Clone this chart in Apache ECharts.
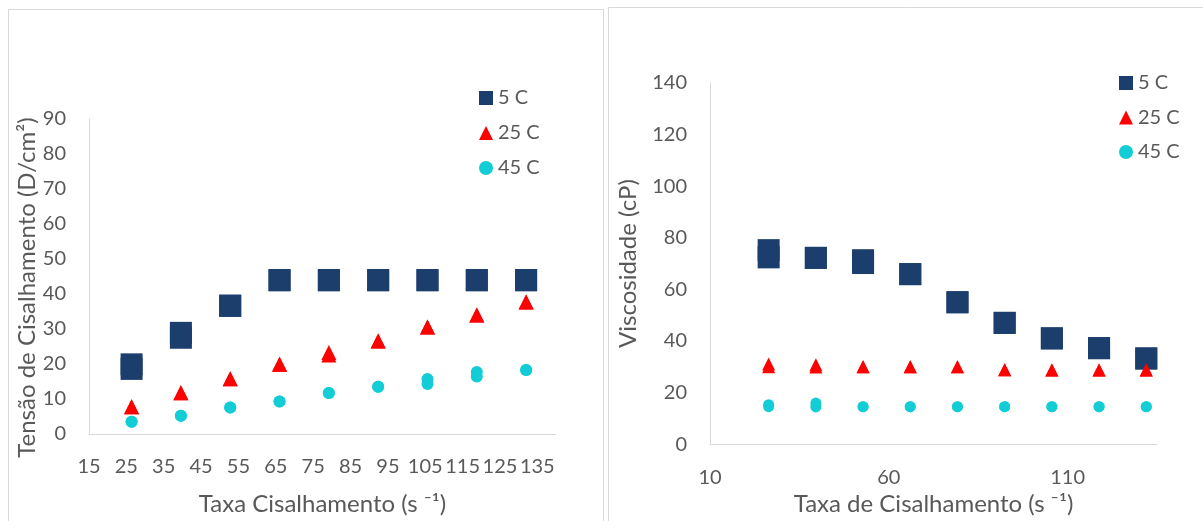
<!DOCTYPE html>
<html>
<head>
<meta charset="utf-8">
<title>Tensão e viscosidade</title>
<script src="https://cdn.jsdelivr.net/npm/echarts@6/dist/echarts.min.js"></script>
<style>
  html, body { margin: 0; padding: 0; background: #fff; }
  #chart { width: 1203px; height: 521px; }
</style>
</head>
<body>
<div id="chart"></div>
<script>
// taxa de cisalhamento (s-1), mesma para todas as leituras
const shearRate = [26.4, 39.6, 52.8, 66, 79.2, 92.4, 105.6, 118.8, 132]

// tensão de cisalhamento (D/cm2) - duas leituras por ponto
const tension5C = [19.9, 28.9, 36.7, 44, 44, 44, 44, 44, 44]
const tension5Cb = [18.6, 27.5, 36.6, 43.9, 43.9, 43.9, 43.9, 43.9, 43.9]
const tension25C = [7.8, 11.8, 15.8, 19.9, 23.3, 26.6, 30.6, 34.0, 37.7]
const tension25Cb = [7.8, 11.8, 15.8, 19.9, 22.6, 26.6, 30.6, 34.0, 37.7]
const tension45C = [3.5, 5.2, 7.6, 9.3, 11.7, 13.5, 15.7, 17.7, 18.3]
const tension45Cb = [3.5, 5.2, 7.6, 9.3, 11.7, 13.5, 14.3, 16.4, 18.3]

// viscosidade (cP) - duas leituras por ponto
const visc5C = [75.2, 72.2, 71.3, 65.9, 55.0, 47.0, 41.0, 37.2, 33.2]
const visc5Cb = [72.4, 72.2, 70.2, 65.9, 55.0, 47.0, 41.0, 37.2, 33.2]
const visc25C = [31.1, 30.8, 30.0, 30.0, 30.0, 28.8, 28.7, 28.7, 28.7]
const visc25Cb = [30.0, 29.9, 30.0, 30.0, 30.0, 28.8, 28.7, 28.7, 28.7]
const visc45C = [15.3, 15.9, 14.5, 14.5, 14.5, 14.5, 14.5, 14.5, 14.5]
const visc45Cb = [14.5, 14.4, 14.5, 14.5, 14.5, 14.5, 14.5, 14.5, 14.5]

const seriesNames = ['5 C', '25 C', '45 C']

const FONT = 'Lato'
const TEXT = '#595959'
const LINE = '#d9d9d9'
const COLORS = ['#1c3e6c', '#ff0000', '#12cdd6']

function pairs(xs, a, b) {
  const out = []
  xs.forEach((x, i) => {
    out.push([x, a[i]])
    out.push([x, b[i]])
  })
  return out
}

function valueAxis(idx, min, max, interval, name, nameGap, extra) {
  return Object.assign({
    type: 'value',
    gridIndex: idx,
    min: min,
    max: max,
    interval: interval,
    name: name,
    nameLocation: 'middle',
    nameGap: nameGap,
    nameTextStyle: { color: TEXT, fontSize: 24, fontFamily: FONT },
    axisLine: { show: true, lineStyle: { color: LINE, width: 1 } },
    axisTick: { show: false },
    splitLine: { show: false },
    axisLabel: { color: TEXT, fontSize: 20, fontFamily: FONT, margin: 23 }
  }, extra || {})
}

function scatter(name, xIdx, data, symbol, size, color) {
  return {
    name: name,
    type: 'scatter',
    xAxisIndex: xIdx,
    yAxisIndex: xIdx,
    symbol: symbol,
    symbolSize: size,
    itemStyle: { color: color, opacity: 1 },
    data: data,
    animation: false
  }
}

function legend(left, top, gap) {
  return {
    orient: 'vertical',
    left: left,
    top: top,
    padding: 0,
    itemWidth: 14,
    itemHeight: 14,
    itemGap: gap,
    textStyle: { color: TEXT, fontSize: 20, fontFamily: FONT },
    data: seriesNames
  }
}

const chart = echarts.init(document.getElementById('chart'))

chart.setOption({
  backgroundColor: '#fff',
  animation: false,
  graphic: [
    { type: 'rect', shape: { x: 8.5, y: 9.5, width: 595, height: 530 },
      style: { fill: 'none', stroke: LINE, lineWidth: 1 }, silent: true },
    { type: 'rect', shape: { x: 608.5, y: 7.5, width: 610, height: 530 },
      style: { fill: 'none', stroke: LINE, lineWidth: 1 }, silent: true }
  ],
  legend: [legend(479, 88, 15), legend(1119, 73, 14.5)],
  grid: [
    { left: 89, top: 119, width: 467, height: 316 },
    { left: 710, top: 83, width: 447, height: 363 }
  ],
  xAxis: [
    valueAxis(0, 15, 140, 10, 'Taxa Cisalhamento (s \u207B\u00B9)', 58,
      { axisLabel: { color: TEXT, fontSize: 20, fontFamily: FONT, margin: 23, showMaxLabel: false } }),
    valueAxis(1, 10, 135, 50, 'Taxa de Cisalhamento (s \u207B\u00B9)', 45,
      { axisLabel: { color: TEXT, fontSize: 20, fontFamily: FONT, margin: 23, showMaxLabel: false } })
  ],
  yAxis: [
    valueAxis(0, 0, 90, 10, '{t|Tensão de Cisalhamento (D/cm²)}', 50, {
      nameTextStyle: {
        color: TEXT, fontSize: 24, fontFamily: FONT,
        rich: { t: { color: TEXT, fontSize: 24, fontFamily: FONT, padding: [0, 22, 0, 0] } }
      }
    }),
    valueAxis(1, 0, 140, 20, 'Viscosidade (cP)', 70)
  ],
  series: [
    scatter(seriesNames[0], 0, pairs(shearRate, tension5C, tension5Cb), 'rect', 22, COLORS[0]),
    scatter(seriesNames[1], 0, pairs(shearRate, tension25C, tension25Cb), 'triangle', 15, COLORS[1]),
    scatter(seriesNames[2], 0, pairs(shearRate, tension45C, tension45Cb), 'circle', 12, COLORS[2]),
    scatter(seriesNames[0], 1, pairs(shearRate, visc5C, visc5Cb), 'rect', 22, COLORS[0]),
    scatter(seriesNames[1], 1, pairs(shearRate, visc25C, visc25Cb), 'triangle', 13, COLORS[1]),
    scatter(seriesNames[2], 1, pairs(shearRate, visc45C, visc45Cb), 'circle', 11, COLORS[2])
  ]
})
</script>
</body>
</html>
